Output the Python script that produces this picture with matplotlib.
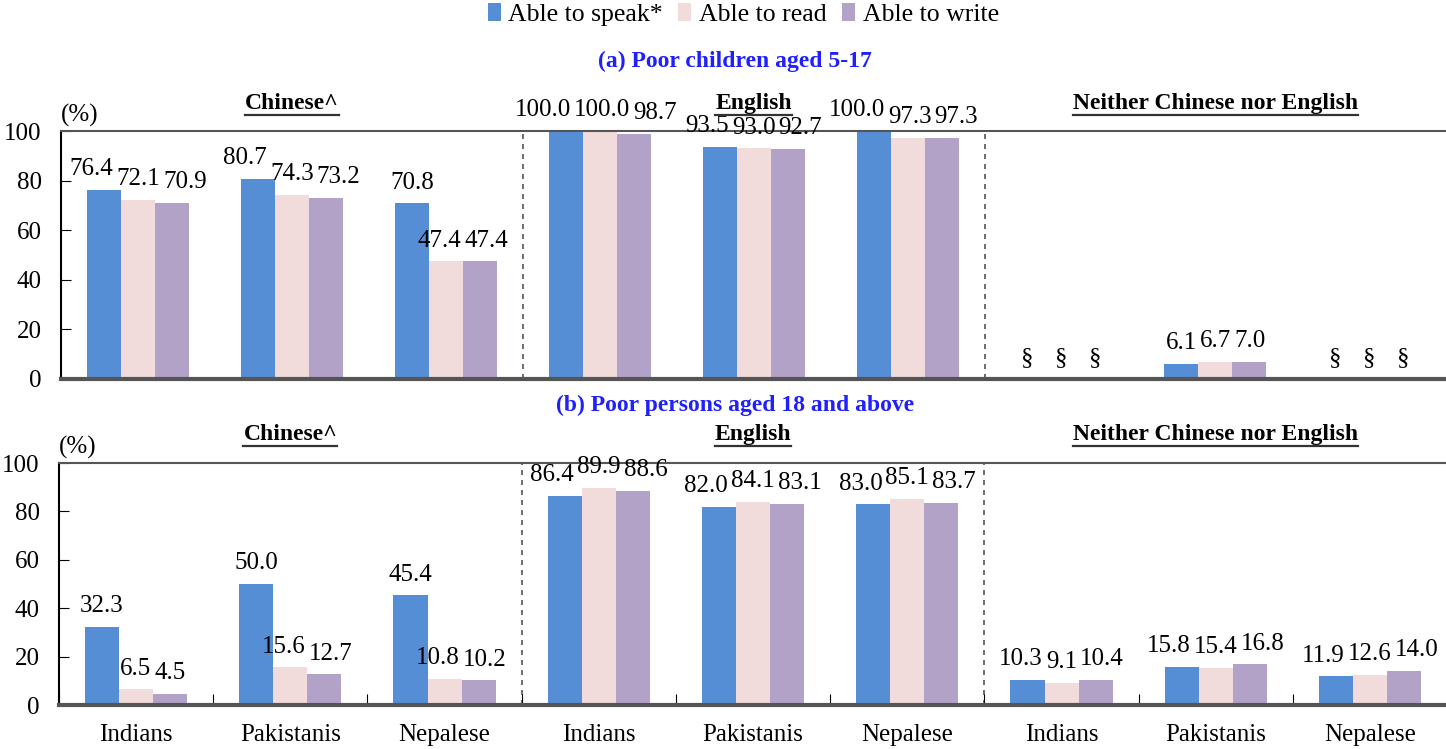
import numpy as np
import matplotlib.pyplot as plt

plt.rcParams['font.family'] = ['Liberation Serif', 'DejaVu Serif']

# data
groups = ['Indians', 'Pakistanis', 'Nepalese'] * 3
sections = ['Chinese^', 'English', 'Neither Chinese nor English']
series = ['Able to speak*', 'Able to read', 'Able to write']
colors = ['#558ED5', '#F2DCDB', '#B3A2C7']

# panel (a): poor children aged 5-17 (None = "§")
speak_a = [76.4, 80.7, 70.8, 100.0, 93.5, 100.0, None, 6.1, None]
read_a = [72.1, 74.3, 47.4, 100.0, 93.0, 97.3, None, 6.7, None]
write_a = [70.9, 73.2, 47.4, 98.7, 92.7, 97.3, None, 7.0, None]

# panel (b): poor persons aged 18 and above
speak_b = [32.3, 50.0, 45.4, 86.4, 82.0, 83.0, 10.3, 15.8, 11.9]
read_b = [6.5, 15.6, 10.8, 89.9, 84.1, 85.1, 9.1, 15.4, 12.6]
write_b = [4.5, 12.7, 10.2, 88.6, 83.1, 83.7, 10.4, 16.8, 14.0]

title_a = '(a) Poor children aged 5-17'
title_b = '(b) Poor persons aged 18 and above'

fig = plt.figure(figsize=(14.46, 7.49), dpi=100)
ax_a = fig.add_axes([0.0422, 0.494, 0.958, 0.331])
ax_b = fig.add_axes([0.0408, 0.0587, 0.960, 0.323])

w = 0.221
x = np.arange(len(groups))


def spread_labels(ax, texts):
    # push apart neighbouring labels in a group that would overlap, like Excel does
    fig.canvas.draw()
    r = fig.canvas.get_renderer()
    inv = ax.transData.inverted()
    boxes = []
    for t in texts:
        bb = t.get_window_extent(renderer=r)
        (x0, y0), (x1, y1) = inv.transform([[bb.x0, bb.y0], [bb.x1, bb.y1]])
        boxes.append([t.get_position()[0], x1 - x0, y0, y1])
    pos = [b[0] for b in boxes]
    for _ in range(60):
        for i in range(len(texts) - 1):
            a, b = boxes[i], boxes[i + 1]
            if a[3] < b[2] or b[3] < a[2]:
                continue
            need = (a[1] + b[1]) / 2 + 0.02
            gap = pos[i + 1] - pos[i]
            if gap < need:
                d = (need - gap) / 2
                pos[i] -= d
                pos[i + 1] += d
    for t, p in zip(texts, pos):
        t.set_x(p)


def draw_panel(ax, data, show_xlabels):
    handles = []
    labels = [[] for _ in groups]
    for k, (vals, col) in enumerate(zip(data, colors)):
        h = [0 if v is None else v for v in vals]
        pos = x + (k - 1) * w
        b = ax.bar(pos, h, width=w, color=col, zorder=2)
        handles.append(b)
        for g, (xi, v) in enumerate(zip(pos, vals)):
            lab = '§' if v is None else f'{v:.1f}'
            t = ax.text(xi, (0 if v is None else v) + 4, lab, ha='center',
                        va='bottom', fontsize=18, clip_on=False)
            labels[g].append(t)
    ax.set_xlim(-0.5, 8.5)
    ax.set_ylim(0, 100)
    ax.set_yticks(range(0, 101, 20))
    ax.tick_params(axis='y', direction='in', length=7, labelsize=18, pad=14)
    for b in (2.5, 5.5):
        ax.axvline(b, color='#555555', ls=(0, (3, 3)), lw=1.2, zorder=1)
    ax.spines['right'].set_visible(False)
    ax.spines['left'].set_linewidth(1.5)
    ax.spines['top'].set_color('#555555')
    ax.spines['top'].set_linewidth(1.5)
    ax.spines['bottom'].set_color('#555555')
    ax.spines['bottom'].set_linewidth(3)
    if show_xlabels:
        ax.set_xticks(np.arange(-0.5, 9, 1), minor=False)
        ax.set_xticklabels([])
        ax.set_xticks(x, minor=True)
        ax.set_xticklabels(groups, minor=True, fontsize=18)
        ax.tick_params(axis='x', which='major', direction='in', length=8)
        ax.tick_params(axis='x', which='minor', length=0, pad=14)
    else:
        ax.set_xticks([])
    ax.text(0, 1.015, '(%)', transform=ax.transAxes, fontsize=18,
            ha='left', va='bottom')
    for grp in labels:
        spread_labels(ax, grp)
    return handles


def section_heads(ax, y_off):
    fig.canvas.draw()
    r = fig.canvas.get_renderer()
    for i, s in enumerate(sections):
        t = ax.text(1 + 3 * i, 100 + y_off, s, ha='center', va='bottom',
                    fontsize=17, fontweight='bold', clip_on=False)
        bb = t.get_window_extent(renderer=r)
        inv = fig.transFigure.inverted()
        (x0, y0), (x1, _) = inv.transform([[bb.x0, bb.y0], [bb.x1, bb.y1]])
        fig.add_artist(plt.Line2D([x0, x1], [y0 - 0.002, y0 - 0.002],
                                  transform=fig.transFigure, color='#333333',
                                  lw=1.6))


handles = draw_panel(ax_a, [speak_a, read_a, write_a], False)
draw_panel(ax_b, [speak_b, read_b, write_b], True)

section_heads(ax_a, 7)
section_heads(ax_b, 7.5)

fig.text(0.508, 0.918, title_a, ha='center', va='center', fontsize=17,
         fontweight='bold', color='#1F1FFF')
fig.text(0.508, 0.459, title_b, ha='center', va='center', fontsize=17,
         fontweight='bold', color='#1F1FFF')

fig.legend(handles, series, loc='center', bbox_to_anchor=(0.514, 0.98),
           ncol=3, frameon=False, fontsize=18.5, handlelength=0.5,
           handleheight=0.7, handletextpad=0.3, columnspacing=0.6)

fig.savefig('out.png', dpi=100)
